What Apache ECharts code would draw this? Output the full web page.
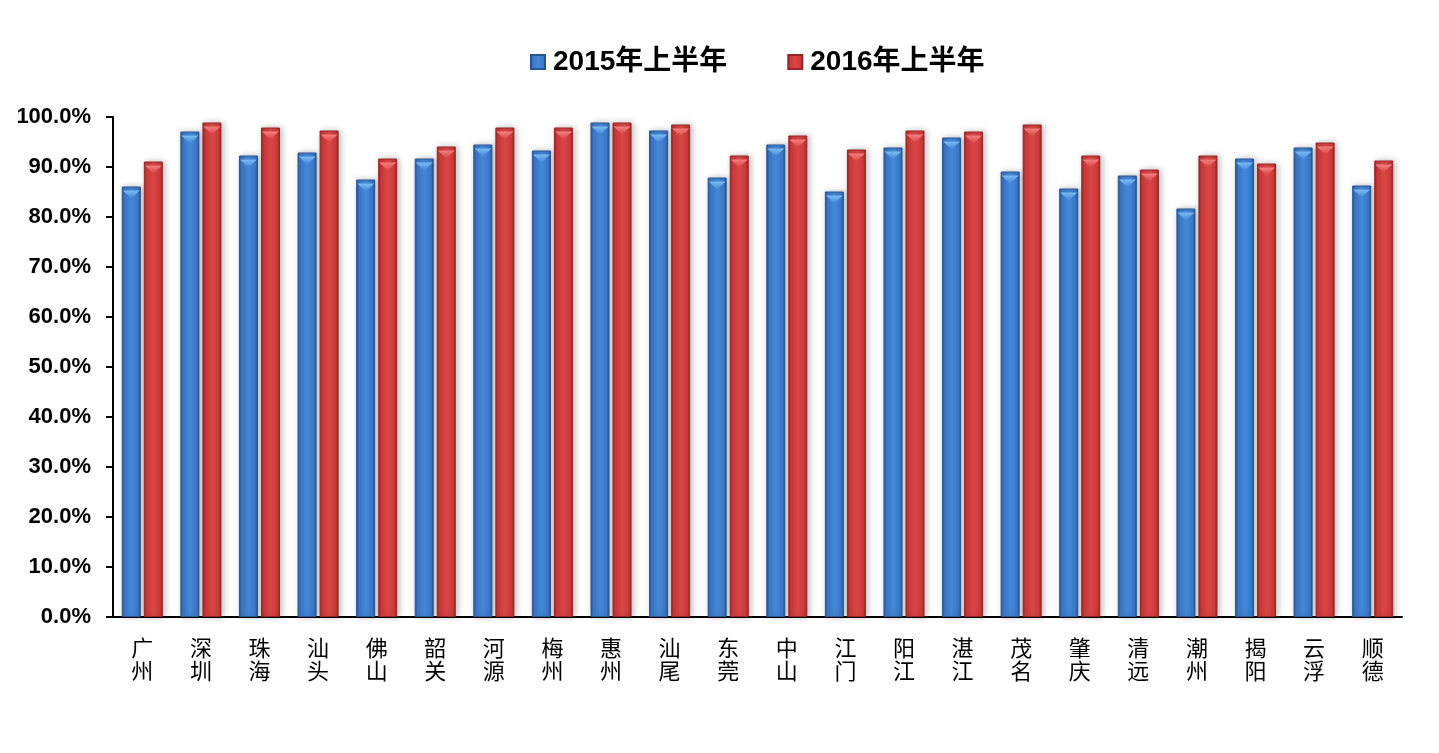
<!DOCTYPE html>
<html>
<head>
<meta charset="utf-8">
<script src="https://cdn.jsdelivr.net/npm/echarts@6/dist/echarts.min.js"></script>
<style>
html,body{margin:0;padding:0;background:#fff;}
#chart{width:1439px;height:753px;}
</style>
</head>
<body>
<div id="chart"></div>
<script>
const categories = ['广州','深圳','珠海','汕头','佛山','韶关','河源','梅州','惠州','汕尾','东莞','中山','江门','阳江','湛江','茂名','肇庆','清远','潮州','揭阳','云浮','顺德'];
const seriesNames = ['2015年上半年','2016年上半年'];
const values2015 = [86.1,97.1,92.3,92.9,87.5,91.7,94.5,93.3,98.9,97.3,87.9,94.5,85.1,93.9,95.9,89.1,85.7,88.3,81.7,91.7,93.9,86.3];
const values2016 = [91.1,98.9,97.9,97.3,91.7,94.1,97.9,97.9,98.9,98.5,92.3,96.3,93.5,97.3,97.1,98.5,92.3,89.5,92.3,90.7,94.9,91.3];

function grad(dark, mid, light){
  return new echarts.graphic.LinearGradient(0,0,1,0,[
    {offset:0,color:dark},{offset:0.15,color:mid},{offset:0.5,color:light},{offset:0.85,color:mid},{offset:1,color:dark}
  ]);
}
function capGrad(a,b){
  return new echarts.graphic.LinearGradient(0,0,0,1,[{offset:0,color:a},{offset:1,color:b}]);
}
const blueFill = grad('#2a5590','#3a78c8','#4488d8');
const redFill = grad('#962626','#cc3a3a','#da4646');
const blueCap = capGrad('#3f86d8','#7cbcf4');
const redCap = capGrad('#d84444','#f48080');
const BW = 19;

const chart = echarts.init(document.getElementById('chart'));
chart.setOption({
  animation:false,
  backgroundColor:'#fff',
  legend:{
    top:43,
    left:525,
    icon:'rect',
    itemWidth:14,itemHeight:14,
    itemGap:60,
    textStyle:{fontSize:28,fontWeight:'bold',color:'#000',padding:[0,0,0,3],fontFamily:'"Liberation Sans","Noto Sans CJK SC",sans-serif'},
    data:[
      {name:seriesNames[0],itemStyle:{color:blueFill}},
      {name:seriesNames[1],itemStyle:{color:redFill}}
    ]
  },
  grid:{left:113,right:37,top:117,bottom:136,containLabel:false},
  xAxis:{
    type:'category',
    data:categories,
    axisLine:{lineStyle:{color:'#000',width:2}},
    axisTick:{show:false},
    axisLabel:{
      interval:0,
      margin:19,
      fontSize:22,
      lineHeight:23,
      color:'#000',
      fontFamily:'"Noto Sans CJK SC",sans-serif',
      formatter:function(v){return v.split('').join('\n');}
    }
  },
  yAxis:{
    type:'value',
    min:0,max:100,interval:10,
    axisLine:{show:true,lineStyle:{color:'#000',width:2}},
    axisTick:{show:true,length:7,lineStyle:{color:'#000',width:2}},
    splitLine:{show:false},
    axisLabel:{
      margin:22,
      fontSize:22,
      fontWeight:'bold',
      color:'#000',
      fontFamily:'"Liberation Sans",Arial,sans-serif',
      formatter:function(v){return v.toFixed(1)+'%';}
    }
  },
  series:[
    {
      name:seriesNames[0],type:'bar',data:values2015,
      barWidth:BW,barGap:'16%',
      itemStyle:{color:blueFill,borderColor:'#2a5590',borderWidth:1,shadowColor:'rgba(0,0,0,0.25)',shadowBlur:6,shadowOffsetX:2}
    },
    {
      name:seriesNames[1],type:'bar',data:values2016,
      barWidth:BW,barGap:'16%',
      itemStyle:{color:redFill,borderColor:'#962626',borderWidth:1,shadowColor:'rgba(0,0,0,0.25)',shadowBlur:6,shadowOffsetX:2}
    },
    {
      name:seriesNames[0]+'cap',type:'pictorialBar',data:values2015,
      barWidth:BW,barGap:'16%',
      symbol:'triangle',symbolRotate:180,symbolPosition:'end',
      symbolSize:[BW-2,8],symbolOffset:[0,'50%'],
      itemStyle:{color:blueCap},z:5,silent:true
    },
    {
      name:seriesNames[1]+'cap',type:'pictorialBar',data:values2016,
      barWidth:BW,barGap:'16%',
      symbol:'triangle',symbolRotate:180,symbolPosition:'end',
      symbolSize:[BW-2,8],symbolOffset:[0,'50%'],
      itemStyle:{color:redCap},z:5,silent:true
    }
  ]
});
</script>
</body>
</html>
